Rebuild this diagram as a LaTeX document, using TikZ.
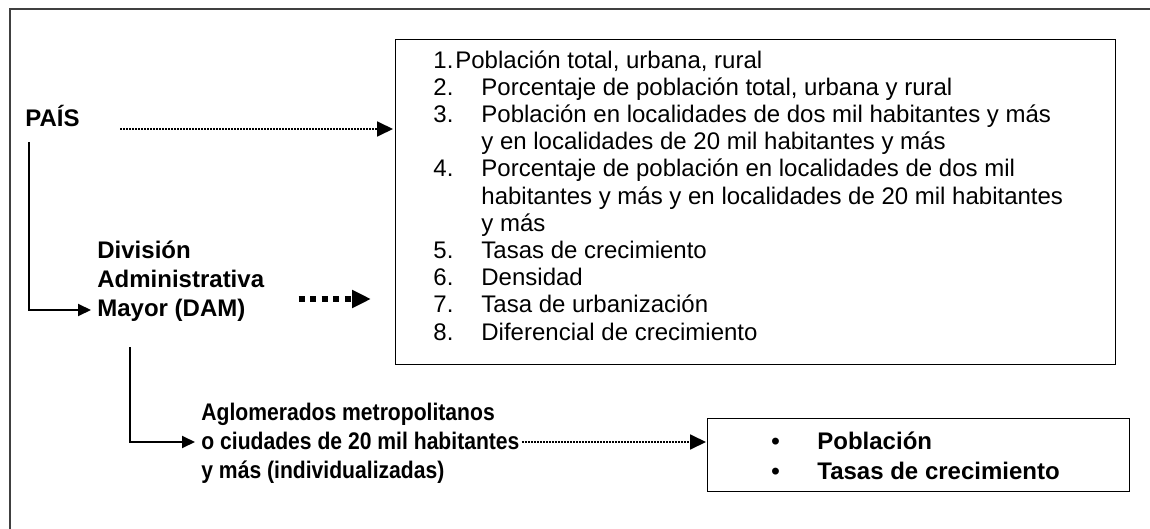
\documentclass[tikz,border=0pt]{standalone}
\usepackage{fontspec}
\setmainfont{Liberation Sans}
\newfontfamily\narrowfont[FakeStretch=0.88]{Liberation Sans}
\usetikzlibrary{arrows.meta}
\usetikzlibrary{calc}

\newcommand{\itemno}[1]{\makebox[24pt][l]{#1}}
\newcommand{\itemgap}{\hspace*{24pt}}
\newcommand{\dotitem}{\makebox[23pt][l]{\textbullet}}

\tikzset{
  box/.style={draw, line width=0.7pt, inner sep=0pt},
  level/.style={font=\fontsize{12}{14.5}\selectfont\bfseries, align=left, inner sep=0pt},
  flow/.style={line width=1pt, -{Triangle[length=6.5pt,width=6pt]}},
  dotflow/.style={line width=0.9pt, dash pattern=on 0.9pt off 0.6pt, -{Triangle[length=8pt,width=7.5pt]}},
  dashflow/.style={line width=3.2pt, dash pattern=on 3pt off 2.8pt, -{Triangle[length=9.5pt,width=8.5pt]}}
}

\begin{document}
\begin{tikzpicture}[x=0.5pt,y=-0.5pt]
    \useasboundingbox (0,0) rectangle (1150,529);
    % Frame
    \draw[line width=0.7pt, black!75] (10,529) -- (10,9) -- (1150,9);
    % Levels (base = last line)
    \node[level, anchor=base west] (pais) at (25,127) {PAÍS};
    \node[level, anchor=base west] (dam) at (97,316) {División\\Administrativa\\Mayor (DAM)};
    \node[level, font=\fontsize{12}{14.5}\selectfont\narrowfont\bfseries, anchor=base west] (aglo) at (201,478)
      {Aglomerados metropolitanos\\o ciudades de 20 mil habitantes\\y más (individualizadas)};
    % Indicator boxes
    \node[box, anchor=north west, minimum width=360pt, minimum height=162.5pt] (indbox) at (395,39) {};
    \node[anchor=base west, inner sep=0pt, align=left, font=\fontsize{12}{13.6}\selectfont] (indlist) at (433,340)
      {\makebox[11pt][l]{1.}Población total, urbana, rural\\
       \itemno{2.}Porcentaje de población total, urbana y rural\\
       \itemno{3.}Población en localidades de dos mil habitantes y más\\
       \itemgap y en localidades de 20 mil habitantes y más\\
       \itemno{4.}Porcentaje de población en localidades de dos mil\\
       \itemgap habitantes y más y en localidades de 20 mil habitantes\\
       \itemgap y más\\
       \itemno{5.}Tasas de crecimiento\\
       \itemno{6.}Densidad\\
       \itemno{7.}Tasa de urbanización\\
       \itemno{8.}Diferencial de crecimiento};
    \node[box, anchor=north west, minimum width=211pt, minimum height=36.5pt] (basicbox) at (707,418) {};
    \node[anchor=base west, inner sep=0pt, align=left, font=\fontsize{12}{15}\selectfont\bfseries] (basiclist) at (771,479)
      {\dotitem Población\\ \dotitem Tasas de crecimiento};
    % Connectors
    \draw[dotflow, shorten <=20pt, shorten >=1pt] ([yshift=-1pt]pais.base east) -- ([yshift=-1pt]pais.base east -| indbox.west);
    \draw[flow] ($(pais.base west)+(4,15)$) |- ($(dam.base west)+(-6,-6)$);
    \draw[dashflow] ($(dam.base east)+(34,-17)$) -- ($(dam.base east -| indbox.west)+(-24,-17)$);
    \draw[flow] ($(dam.base west)+(33,31)$) |- ($(aglo.base west)+(-6,-36)$);
    \draw[dotflow] ($(aglo.base east)+(2,-36)$) -- ($(aglo.base east -| basicbox.west)+(-1,-36)$);
\end{tikzpicture}
\end{document}
